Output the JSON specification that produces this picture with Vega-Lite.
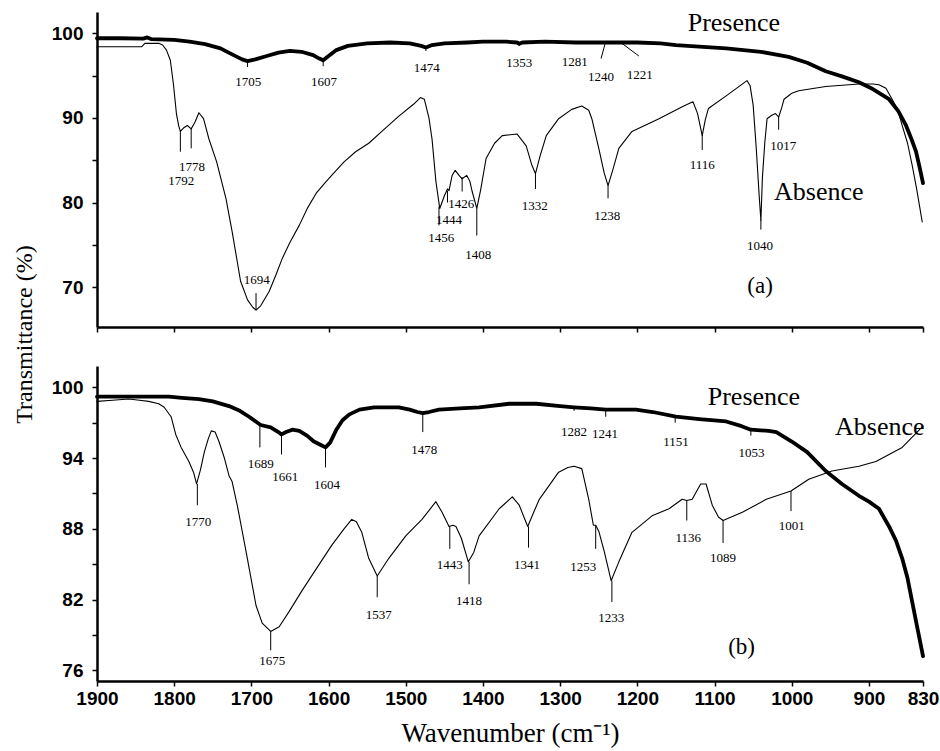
{
  "$schema": "https://vega.github.io/schema/vega-lite/v6.json",
  "background": "white",
  "padding": {"left": 12, "top": 10, "right": 5, "bottom": 5},
  "bounds": "flush",
  "spacing": 39,
  "config": {
    "view": {"stroke": null},
    "axis": {"domainColor": "black", "domainWidth": 2.5, "tickColor": "black", "tickWidth": 1.5, "tickSize": 5, "grid": false,
      "labelFont": "Liberation Sans", "labelFontWeight": "bold", "labelFontSize": 19, "labelColor": "black",
      "titleFont": "Liberation Serif", "titleFontWeight": "normal", "titleColor": "black"},
    "axisY": {"labelPadding": 9, "titleFontSize": 24},
    "axisX": {"labelPadding": 3, "labelFlush": false, "labelOverlap": false, "format": "d", "titleFontSize": 27, "titlePadding": 12}
  },
  "datasets": {
    "a_spec": [
      {"s":"Presence","w":1900,"t":99.4},{"s":"Presence","w":1870,"t":99.4},{"s":"Presence","w":1840,"t":99.35},{"s":"Presence","w":1835,"t":99.5},{"s":"Presence","w":1830,"t":99.3},{"s":"Presence","w":1800,"t":99.2},{"s":"Presence","w":1780,"t":99.0},{"s":"Presence","w":1760,"t":98.7},{"s":"Presence","w":1740,"t":98.2},{"s":"Presence","w":1725,"t":97.5},{"s":"Presence","w":1712,"t":96.9},{"s":"Presence","w":1705,"t":96.7},{"s":"Presence","w":1695,"t":96.9},{"s":"Presence","w":1680,"t":97.3},{"s":"Presence","w":1665,"t":97.7},{"s":"Presence","w":1650,"t":97.9},{"s":"Presence","w":1635,"t":97.8},{"s":"Presence","w":1620,"t":97.4},{"s":"Presence","w":1612,"t":97.0},{"s":"Presence","w":1607,"t":96.8},{"s":"Presence","w":1600,"t":97.3},{"s":"Presence","w":1590,"t":98.0},{"s":"Presence","w":1575,"t":98.5},{"s":"Presence","w":1550,"t":98.8},{"s":"Presence","w":1520,"t":98.9},{"s":"Presence","w":1495,"t":98.8},{"s":"Presence","w":1480,"t":98.5},{"s":"Presence","w":1474,"t":98.3},{"s":"Presence","w":1466,"t":98.6},{"s":"Presence","w":1450,"t":98.8},{"s":"Presence","w":1420,"t":98.9},{"s":"Presence","w":1400,"t":99.0},{"s":"Presence","w":1370,"t":99.0},{"s":"Presence","w":1356,"t":98.9},{"s":"Presence","w":1353,"t":98.75},{"s":"Presence","w":1349,"t":98.9},{"s":"Presence","w":1320,"t":99.0},{"s":"Presence","w":1280,"t":98.9},{"s":"Presence","w":1240,"t":98.9},{"s":"Presence","w":1200,"t":98.9},{"s":"Presence","w":1170,"t":98.8},{"s":"Presence","w":1150,"t":98.6},{"s":"Presence","w":1120,"t":98.4},{"s":"Presence","w":1085,"t":98.2},{"s":"Presence","w":1040,"t":97.8},{"s":"Presence","w":1004,"t":97.2},{"s":"Presence","w":980,"t":96.5},{"s":"Presence","w":956,"t":95.5},{"s":"Presence","w":935,"t":94.9},{"s":"Presence","w":913,"t":94.2},{"s":"Presence","w":895,"t":93.4},{"s":"Presence","w":874,"t":92.2},{"s":"Presence","w":862,"t":90.8},{"s":"Presence","w":852,"t":89.1},{"s":"Presence","w":845,"t":87.5},{"s":"Presence","w":839,"t":86.0},{"s":"Presence","w":834,"t":84.0},{"s":"Presence","w":830,"t":82.3},
      {"s":"Absence","w":1900,"t":98.4},{"s":"Absence","w":1842,"t":98.4},{"s":"Absence","w":1838,"t":98.8},{"s":"Absence","w":1820,"t":98.8},{"s":"Absence","w":1815,"t":98.6},{"s":"Absence","w":1810,"t":98.0},{"s":"Absence","w":1805,"t":96.8},{"s":"Absence","w":1801,"t":94.0},{"s":"Absence","w":1797,"t":90.4},{"s":"Absence","w":1794,"t":89.0},{"s":"Absence","w":1792,"t":88.4},{"s":"Absence","w":1788,"t":88.8},{"s":"Absence","w":1783,"t":89.1},{"s":"Absence","w":1778,"t":88.7},{"s":"Absence","w":1773,"t":89.5},{"s":"Absence","w":1768,"t":90.6},{"s":"Absence","w":1762,"t":89.9},{"s":"Absence","w":1755,"t":87.5},{"s":"Absence","w":1745,"t":84.8},{"s":"Absence","w":1733,"t":80.5},{"s":"Absence","w":1725,"t":76.6},{"s":"Absence","w":1714,"t":70.7},{"s":"Absence","w":1705,"t":68.5},{"s":"Absence","w":1698,"t":67.6},{"s":"Absence","w":1694,"t":67.3},{"s":"Absence","w":1688,"t":67.8},{"s":"Absence","w":1677,"t":69.5},{"s":"Absence","w":1668,"t":71.5},{"s":"Absence","w":1660,"t":73.4},{"s":"Absence","w":1650,"t":75.3},{"s":"Absence","w":1638,"t":77.3},{"s":"Absence","w":1627,"t":79.4},{"s":"Absence","w":1616,"t":81.1},{"s":"Absence","w":1605,"t":82.3},{"s":"Absence","w":1596,"t":83.2},{"s":"Absence","w":1580,"t":84.8},{"s":"Absence","w":1565,"t":86.0},{"s":"Absence","w":1548,"t":87.0},{"s":"Absence","w":1531,"t":88.4},{"s":"Absence","w":1509,"t":90.2},{"s":"Absence","w":1490,"t":91.6},{"s":"Absence","w":1481,"t":92.4},{"s":"Absence","w":1476,"t":92.2},{"s":"Absence","w":1470,"t":90.0},{"s":"Absence","w":1466,"t":87.5},{"s":"Absence","w":1461,"t":82.5},{"s":"Absence","w":1456,"t":79.3},{"s":"Absence","w":1450,"t":80.8},{"s":"Absence","w":1446,"t":81.6},{"s":"Absence","w":1444,"t":81.4},{"s":"Absence","w":1440,"t":83.2},{"s":"Absence","w":1436,"t":83.8},{"s":"Absence","w":1431,"t":83.2},{"s":"Absence","w":1427,"t":82.8},{"s":"Absence","w":1421,"t":83.2},{"s":"Absence","w":1417,"t":82.5},{"s":"Absence","w":1414,"t":81.3},{"s":"Absence","w":1408,"t":79.3},{"s":"Absence","w":1403,"t":81.5},{"s":"Absence","w":1396,"t":85.2},{"s":"Absence","w":1385,"t":87.0},{"s":"Absence","w":1375,"t":87.9},{"s":"Absence","w":1356,"t":88.1},{"s":"Absence","w":1344,"t":86.7},{"s":"Absence","w":1337,"t":84.5},{"s":"Absence","w":1332,"t":83.4},{"s":"Absence","w":1326,"t":85.5},{"s":"Absence","w":1318,"t":87.9},{"s":"Absence","w":1302,"t":89.9},{"s":"Absence","w":1285,"t":91.0},{"s":"Absence","w":1272,"t":91.4},{"s":"Absence","w":1263,"t":90.9},{"s":"Absence","w":1259,"t":89.9},{"s":"Absence","w":1250,"t":86.4},{"s":"Absence","w":1243,"t":83.5},{"s":"Absence","w":1238,"t":82.0},{"s":"Absence","w":1232,"t":83.8},{"s":"Absence","w":1224,"t":86.4},{"s":"Absence","w":1207,"t":88.4},{"s":"Absence","w":1172,"t":89.9},{"s":"Absence","w":1140,"t":91.4},{"s":"Absence","w":1128,"t":91.9},{"s":"Absence","w":1122,"t":90.5},{"s":"Absence","w":1116,"t":87.9},{"s":"Absence","w":1112,"t":89.8},{"s":"Absence","w":1108,"t":91.1},{"s":"Absence","w":1085,"t":92.6},{"s":"Absence","w":1058,"t":94.4},{"s":"Absence","w":1054,"t":93.8},{"s":"Absence","w":1050,"t":91.5},{"s":"Absence","w":1046,"t":86.4},{"s":"Absence","w":1042,"t":80.5},{"s":"Absence","w":1040,"t":77.9},{"s":"Absence","w":1038,"t":83.0},{"s":"Absence","w":1035,"t":87.0},{"s":"Absence","w":1032,"t":89.9},{"s":"Absence","w":1026,"t":90.3},{"s":"Absence","w":1021,"t":90.5},{"s":"Absence","w":1017,"t":90.1},{"s":"Absence","w":1013,"t":91.2},{"s":"Absence","w":1010,"t":92.2},{"s":"Absence","w":1000,"t":92.9},{"s":"Absence","w":991,"t":93.2},{"s":"Absence","w":956,"t":93.7},{"s":"Absence","w":913,"t":94.0},{"s":"Absence","w":895,"t":94.0},{"s":"Absence","w":887,"t":93.9},{"s":"Absence","w":878,"t":93.5},{"s":"Absence","w":870,"t":92.2},{"s":"Absence","w":863,"t":91.0},{"s":"Absence","w":857,"t":89.1},{"s":"Absence","w":850,"t":87.0},{"s":"Absence","w":844,"t":84.4},{"s":"Absence","w":838,"t":81.5},{"s":"Absence","w":831,"t":77.7}
    ],
    "a_ticks": [
      {"w":1705,"t":96.7,"w2":1705,"t2":96.0},{"w":1607,"t":96.8,"w2":1607,"t2":96.1},{"w":1474,"t":98.4,"w2":1474,"t2":97.9},{"w":1353,"t":98.8,"w2":1353,"t2":98.5},
      {"w":1242,"t":98.7,"w2":1247,"t2":97.0},{"w":1220,"t":98.8,"w2":1198,"t2":97.3},
      {"w":1792,"t":88.4,"w2":1792,"t2":86.0},{"w":1778,"t":88.7,"w2":1778,"t2":86.4},{"w":1694,"t":67.3,"w2":1694,"t2":69.3},
      {"w":1457,"t":79.5,"w2":1457,"t2":77.3},{"w":1446,"t":81.4,"w2":1446,"t2":80.0},{"w":1427,"t":83.0,"w2":1427,"t2":81.3},{"w":1408,"t":79.3,"w2":1408,"t2":76.1},
      {"w":1332,"t":83.4,"w2":1332,"t2":81.6},{"w":1238,"t":82.0,"w2":1238,"t2":80.5},{"w":1116,"t":88.0,"w2":1116,"t2":86.2},{"w":1040,"t":78.0,"w2":1040,"t2":76.8},{"w":1017,"t":90.2,"w2":1017,"t2":88.6}
    ],
    "a_labels": [
      {"label":"1705","w":1704,"t":94.2},{"label":"1607","w":1606,"t":94.2},{"label":"1474","w":1473,"t":95.9},{"label":"1353","w":1353,"t":96.5},{"label":"1281","w":1281,"t":96.6},{"label":"1240","w":1247,"t":94.8},{"label":"1221","w":1197,"t":95.1},
      {"label":"1778","w":1777,"t":84.2},{"label":"1792","w":1791,"t":82.5},{"label":"1694","w":1693,"t":70.8},
      {"label":"1456","w":1454,"t":75.8},{"label":"1444","w":1444,"t":77.9},{"label":"1426","w":1428,"t":79.8},{"label":"1408","w":1406,"t":73.8},
      {"label":"1332","w":1333,"t":79.6},{"label":"1238","w":1239,"t":78.4},{"label":"1116","w":1116,"t":84.4},{"label":"1040","w":1041,"t":74.9},{"label":"1017","w":1011,"t":86.7}
    ],
    "a_names": [
      {"kind":"curve","label":"Presence","w":1075,"t":101.2},{"kind":"curve","label":"Absence","w":965,"t":81.3},{"kind":"panel","label":"(a)","w":1041,"t":70.2}
    ],
    "b_spec": [
      {"s":"Presence","w":1900,"t":99.2},{"s":"Presence","w":1850,"t":99.2},{"s":"Presence","w":1807,"t":99.2},{"s":"Presence","w":1790,"t":99.1},{"s":"Presence","w":1768,"t":99.0},{"s":"Presence","w":1750,"t":98.8},{"s":"Presence","w":1729,"t":98.4},{"s":"Presence","w":1715,"t":98.0},{"s":"Presence","w":1703,"t":97.5},{"s":"Presence","w":1688,"t":96.8},{"s":"Presence","w":1675,"t":96.6},{"s":"Presence","w":1665,"t":96.2},{"s":"Presence","w":1661,"t":96.0},{"s":"Presence","w":1655,"t":96.2},{"s":"Presence","w":1647,"t":96.4},{"s":"Presence","w":1638,"t":96.3},{"s":"Presence","w":1628,"t":95.9},{"s":"Presence","w":1619,"t":95.4},{"s":"Presence","w":1610,"t":95.1},{"s":"Presence","w":1604,"t":94.9},{"s":"Presence","w":1598,"t":95.3},{"s":"Presence","w":1590,"t":96.4},{"s":"Presence","w":1582,"t":97.2},{"s":"Presence","w":1573,"t":97.7},{"s":"Presence","w":1560,"t":98.1},{"s":"Presence","w":1541,"t":98.3},{"s":"Presence","w":1509,"t":98.3},{"s":"Presence","w":1495,"t":98.1},{"s":"Presence","w":1485,"t":97.9},{"s":"Presence","w":1478,"t":97.8},{"s":"Presence","w":1470,"t":97.9},{"s":"Presence","w":1457,"t":98.1},{"s":"Presence","w":1430,"t":98.2},{"s":"Presence","w":1405,"t":98.3},{"s":"Presence","w":1366,"t":98.6},{"s":"Presence","w":1331,"t":98.6},{"s":"Presence","w":1300,"t":98.4},{"s":"Presence","w":1282,"t":98.3},{"s":"Presence","w":1260,"t":98.2},{"s":"Presence","w":1241,"t":98.1},{"s":"Presence","w":1202,"t":98.1},{"s":"Presence","w":1180,"t":97.9},{"s":"Presence","w":1150,"t":97.5},{"s":"Presence","w":1120,"t":97.3},{"s":"Presence","w":1085,"t":97.1},{"s":"Presence","w":1065,"t":96.7},{"s":"Presence","w":1053,"t":96.4},{"s":"Presence","w":1030,"t":96.3},{"s":"Presence","w":1020,"t":96.2},{"s":"Presence","w":1000,"t":95.4},{"s":"Presence","w":980,"t":94.5},{"s":"Presence","w":956,"t":92.9},{"s":"Presence","w":935,"t":91.8},{"s":"Presence","w":913,"t":90.8},{"s":"Presence","w":900,"t":90.3},{"s":"Presence","w":887,"t":89.7},{"s":"Presence","w":874,"t":88.2},{"s":"Presence","w":865,"t":87.0},{"s":"Presence","w":857,"t":85.5},{"s":"Presence","w":850,"t":83.8},{"s":"Presence","w":844,"t":81.8},{"s":"Presence","w":837,"t":79.5},{"s":"Presence","w":830,"t":77.2},
      {"s":"Absence","w":1900,"t":98.8},{"s":"Absence","w":1880,"t":98.9},{"s":"Absence","w":1859,"t":99.0},{"s":"Absence","w":1845,"t":98.9},{"s":"Absence","w":1833,"t":98.8},{"s":"Absence","w":1820,"t":98.6},{"s":"Absence","w":1813,"t":98.3},{"s":"Absence","w":1804,"t":97.5},{"s":"Absence","w":1798,"t":96.0},{"s":"Absence","w":1791,"t":94.9},{"s":"Absence","w":1781,"t":93.7},{"s":"Absence","w":1775,"t":92.8},{"s":"Absence","w":1771,"t":91.8},{"s":"Absence","w":1766,"t":93.0},{"s":"Absence","w":1761,"t":94.5},{"s":"Absence","w":1756,"t":95.6},{"s":"Absence","w":1752,"t":96.3},{"s":"Absence","w":1747,"t":96.2},{"s":"Absence","w":1742,"t":95.4},{"s":"Absence","w":1735,"t":94.0},{"s":"Absence","w":1729,"t":92.5},{"s":"Absence","w":1725,"t":92.0},{"s":"Absence","w":1718,"t":89.9},{"s":"Absence","w":1707,"t":86.1},{"s":"Absence","w":1694,"t":81.5},{"s":"Absence","w":1686,"t":80.0},{"s":"Absence","w":1675,"t":79.3},{"s":"Absence","w":1664,"t":79.7},{"s":"Absence","w":1651,"t":81.0},{"s":"Absence","w":1634,"t":82.8},{"s":"Absence","w":1616,"t":84.6},{"s":"Absence","w":1596,"t":86.6},{"s":"Absence","w":1580,"t":88.0},{"s":"Absence","w":1570,"t":88.8},{"s":"Absence","w":1564,"t":88.6},{"s":"Absence","w":1557,"t":87.7},{"s":"Absence","w":1548,"t":85.5},{"s":"Absence","w":1537,"t":84.0},{"s":"Absence","w":1522,"t":85.5},{"s":"Absence","w":1500,"t":87.4},{"s":"Absence","w":1479,"t":88.8},{"s":"Absence","w":1461,"t":90.3},{"s":"Absence","w":1453,"t":89.4},{"s":"Absence","w":1444,"t":88.2},{"s":"Absence","w":1439,"t":88.3},{"s":"Absence","w":1435,"t":88.2},{"s":"Absence","w":1428,"t":87.2},{"s":"Absence","w":1419,"t":85.2},{"s":"Absence","w":1412,"t":86.0},{"s":"Absence","w":1405,"t":87.4},{"s":"Absence","w":1379,"t":89.7},{"s":"Absence","w":1362,"t":90.7},{"s":"Absence","w":1353,"t":90.0},{"s":"Absence","w":1347,"t":89.0},{"s":"Absence","w":1342,"t":88.2},{"s":"Absence","w":1335,"t":89.3},{"s":"Absence","w":1327,"t":90.5},{"s":"Absence","w":1302,"t":92.8},{"s":"Absence","w":1290,"t":93.2},{"s":"Absence","w":1282,"t":93.3},{"s":"Absence","w":1272,"t":93.1},{"s":"Absence","w":1263,"t":90.5},{"s":"Absence","w":1257,"t":88.3},{"s":"Absence","w":1254,"t":88.3},{"s":"Absence","w":1250,"t":87.8},{"s":"Absence","w":1243,"t":86.1},{"s":"Absence","w":1234,"t":83.6},{"s":"Absence","w":1224,"t":85.2},{"s":"Absence","w":1207,"t":87.7},{"s":"Absence","w":1181,"t":89.1},{"s":"Absence","w":1159,"t":89.7},{"s":"Absence","w":1142,"t":90.5},{"s":"Absence","w":1136,"t":90.4},{"s":"Absence","w":1129,"t":90.5},{"s":"Absence","w":1118,"t":91.8},{"s":"Absence","w":1111,"t":91.8},{"s":"Absence","w":1103,"t":90.0},{"s":"Absence","w":1095,"t":89.0},{"s":"Absence","w":1089,"t":88.7},{"s":"Absence","w":1064,"t":89.4},{"s":"Absence","w":1033,"t":90.5},{"s":"Absence","w":1001,"t":91.2},{"s":"Absence","w":978,"t":92.2},{"s":"Absence","w":948,"t":92.9},{"s":"Absence","w":913,"t":93.3},{"s":"Absence","w":891,"t":93.7},{"s":"Absence","w":857,"t":94.9},{"s":"Absence","w":830,"t":96.7}
    ],
    "b_ticks": [
      {"w":1689,"t":96.8,"w2":1689,"t2":94.9},{"w":1661,"t":96.0,"w2":1661,"t2":94.3},{"w":1604,"t":94.9,"w2":1604,"t2":93.2},{"w":1478,"t":97.8,"w2":1478,"t2":96.2},
      {"w":1282,"t":98.4,"w2":1282,"t2":98.0},{"w":1241,"t":98.1,"w2":1241,"t2":97.5},{"w":1151,"t":97.5,"w2":1151,"t2":97.0},{"w":1053,"t":96.4,"w2":1053,"t2":95.9},
      {"w":1770,"t":91.8,"w2":1770,"t2":90.0},{"w":1675,"t":79.3,"w2":1675,"t2":77.7},{"w":1537,"t":84.0,"w2":1537,"t2":82.2},{"w":1443,"t":88.2,"w2":1443,"t2":86.3},{"w":1418,"t":85.2,"w2":1418,"t2":83.3},
      {"w":1341,"t":88.2,"w2":1341,"t2":86.4},{"w":1254,"t":88.3,"w2":1254,"t2":86.3},{"w":1233,"t":83.6,"w2":1233,"t2":81.8},{"w":1136,"t":90.4,"w2":1136,"t2":88.7},{"w":1089,"t":88.7,"w2":1089,"t2":86.8},{"w":1001,"t":91.2,"w2":1001,"t2":89.5}
    ],
    "b_labels": [
      {"label":"1689","w":1688,"t":93.5},{"label":"1661","w":1656,"t":92.4},{"label":"1604","w":1602,"t":91.7},{"label":"1478","w":1476,"t":94.7},
      {"label":"1282","w":1282,"t":96.2},{"label":"1241","w":1242,"t":96.0},{"label":"1151","w":1150,"t":95.4},{"label":"1053","w":1052,"t":94.4},
      {"label":"1770","w":1769,"t":88.6},{"label":"1675","w":1673,"t":76.8},{"label":"1537","w":1535,"t":80.7},{"label":"1443","w":1443,"t":84.9},{"label":"1418","w":1418,"t":81.9},
      {"label":"1341","w":1343,"t":84.9},{"label":"1253","w":1270,"t":84.8},{"label":"1233","w":1234,"t":80.4},{"label":"1136","w":1134,"t":87.2},{"label":"1089","w":1089,"t":85.5},{"label":"1001","w":1000,"t":88.2}
    ],
    "b_names": [
      {"kind":"curve","label":"Presence","w":1049,"t":99.2},{"kind":"curve","label":"Absence","w":886,"t":96.6},{"kind":"panel","label":"(b)","w":1065,"t":78.0}
    ]
  },
  "vconcat": [
    {
      "width": 826, "height": 315,
      "encoding": {
        "x": {"field": "w", "type": "quantitative",
          "scale": {"domain": [830, 1900], "reverse": true, "nice": false, "zero": false},
          "axis": {"values": [1900,1800,1700,1600,1500,1400,1300,1200,1100,1000,900,830], "labels": false, "title": null}},
        "y": {"field": "t", "type": "quantitative",
          "scale": {"domain": [65.3, 102.5], "nice": false, "zero": false},
          "axis": {"values": [70,75,80,85,90,95,100], "labelExpr": "datum.value % 10 === 0 ? datum.label : ''",
            "title": "Transmittance (%)", "titleX": -66, "titleY": 322, "titleAlign": "center", "titleBaseline": "alphabetic"}}
      },
      "layer": [
        {"data": {"name": "a_spec"}, "mark": {"type": "line", "color": "black", "strokeJoin": "round", "strokeCap": "round"},
          "encoding": {"detail": {"field": "s"}, "strokeWidth": {"field": "s", "type": "nominal", "scale": {"domain": ["Presence", "Absence"], "range": [3.8, 1.1]}, "legend": null}}},
        {"data": {"name": "a_ticks"}, "mark": {"type": "rule", "color": "black", "strokeWidth": 1},
          "encoding": {"x2": {"field": "w2"}, "y2": {"field": "t2"}}},
        {"data": {"name": "a_labels"}, "mark": {"type": "text", "font": "Liberation Serif", "fontSize": 13, "align": "center", "baseline": "middle", "color": "black"},
          "encoding": {"text": {"field": "label"}}},
        {"data": {"name": "a_names"}, "transform": [{"filter": "datum.kind === 'curve'"}], "mark": {"type": "text", "font": "Liberation Serif", "fontSize": 26, "align": "center", "baseline": "middle", "color": "black"},
          "encoding": {"text": {"field": "label"}}},
        {"data": {"name": "a_names"}, "transform": [{"filter": "datum.kind === 'panel'"}], "mark": {"type": "text", "font": "Liberation Serif", "fontSize": 23, "align": "center", "baseline": "middle", "color": "black"},
          "encoding": {"text": {"field": "label"}}}
      ]
    },
    {
      "width": 826, "height": 315,
      "encoding": {
        "x": {"field": "w", "type": "quantitative",
          "scale": {"domain": [830, 1900], "reverse": true, "nice": false, "zero": false},
          "axis": {"values": [1900,1800,1700,1600,1500,1400,1300,1200,1100,1000,900,830], "title": "Wavenumber (cm⁻¹)"}},
        "y": {"field": "t", "type": "quantitative",
          "scale": {"domain": [75.1, 101.8], "nice": false, "zero": false},
          "axis": {"values": [76,79,82,85,88,91,94,97,100], "labelExpr": "(datum.value - 76) % 6 === 0 ? datum.label : ''", "title": null}}
      },
      "layer": [
        {"data": {"name": "b_spec"}, "mark": {"type": "line", "color": "black", "strokeJoin": "round", "strokeCap": "round"},
          "encoding": {"detail": {"field": "s"}, "strokeWidth": {"field": "s", "type": "nominal", "scale": {"domain": ["Presence", "Absence"], "range": [3.8, 1.1]}, "legend": null}}},
        {"data": {"name": "b_ticks"}, "mark": {"type": "rule", "color": "black", "strokeWidth": 1},
          "encoding": {"x2": {"field": "w2"}, "y2": {"field": "t2"}}},
        {"data": {"name": "b_labels"}, "mark": {"type": "text", "font": "Liberation Serif", "fontSize": 13, "align": "center", "baseline": "middle", "color": "black"},
          "encoding": {"text": {"field": "label"}}},
        {"data": {"name": "b_names"}, "transform": [{"filter": "datum.kind === 'curve'"}], "mark": {"type": "text", "font": "Liberation Serif", "fontSize": 26, "align": "center", "baseline": "middle", "color": "black"},
          "encoding": {"text": {"field": "label"}}},
        {"data": {"name": "b_names"}, "transform": [{"filter": "datum.kind === 'panel'"}], "mark": {"type": "text", "font": "Liberation Serif", "fontSize": 23, "align": "center", "baseline": "middle", "color": "black"},
          "encoding": {"text": {"field": "label"}}}
      ]
    }
  ]
}
